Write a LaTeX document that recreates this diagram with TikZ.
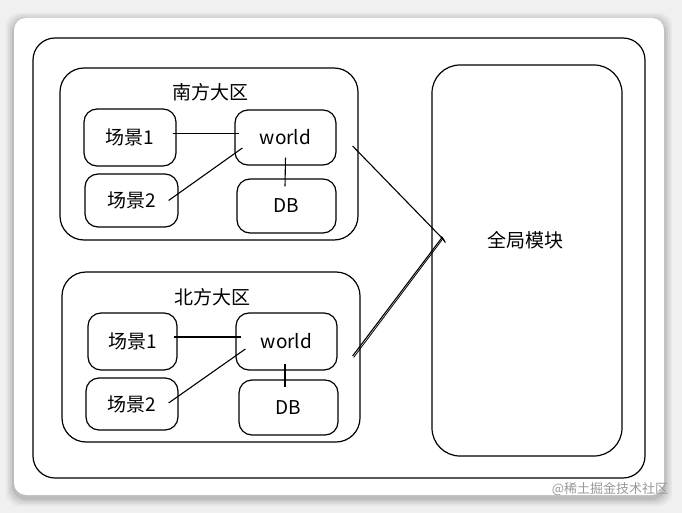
\documentclass[tikz,border=0pt]{standalone}
\usepackage{fontspec}
\setmainfont{Noto Sans CJK SC}
\begin{document}
\begin{tikzpicture}[x=1pt,y=-1pt,
  frame/.style={draw, line width=1.2pt, inner sep=0pt},
  bigbox/.style={frame, rounded corners=22pt},
  regbox/.style={frame, rounded corners=24pt},
  smallbox/.style={frame, rounded corners=13pt, font=\fontsize{19}{19}\selectfont},
  lbl/.style={font=\fontsize{19}{19}\selectfont, inner sep=0pt},
  conn/.style={line width=1.1pt}]
\useasboundingbox (0,0) rectangle (682,513);
\fill[black!6] (0,0) rectangle (682,513);
\foreach \d/\o in {8/0.04,6/0.05,4/0.06,2/0.08}{
  \fill[black, opacity=\o, rounded corners=14pt] (14-\d,18-\d+3) rectangle (664+\d,495+\d+3);
}
\fill[white, rounded corners=12pt] (14,18) rectangle (664,495);

% containers
\node[bigbox, minimum width=612pt, minimum height=440pt] (outer) at (339,258) {};
\node[regbox, minimum width=298pt, minimum height=172pt] (sreg) at (209,154) {};
\node[regbox, minimum width=298pt, minimum height=170pt] (nreg) at (211,357) {};
\node[bigbox, rounded corners=28pt, minimum width=190pt, minimum height=391pt] (glob) at (527,260.5) {};
\node[lbl] (globl) at (525,240) {全局模块};
\node[lbl] (slbl) at (210,92) {南方大区};
\node[lbl] (nlbl) at (212,297) {北方大区};

% south
\node[smallbox, minimum width=92pt, minimum height=57pt] (s1S) at (130,137.5) {场景1};
\node[smallbox, minimum width=93pt, minimum height=53pt] (s2S) at (131.5,200.5) {场景2};
\node[smallbox, minimum width=101pt, minimum height=55pt] (wS) at (285.5,137.5) {world};
\node[smallbox, minimum width=99pt, minimum height=54pt] (dbS) at (286.5,206) {DB};

% north
\node[smallbox, minimum width=89pt, minimum height=57pt] (s1N) at (132.5,341.5) {场景1};
\node[smallbox, minimum width=92pt, minimum height=52pt] (s2N) at (132,404) {场景2};
\node[smallbox, minimum width=101pt, minimum height=57pt] (wN) at (286.5,341.5) {world};
\node[smallbox, minimum width=99pt, minimum height=55pt] (dbN) at (288.5,407.5) {DB};

% connectors south
\draw[conn] ([shift={(-4,-4)}]s1S.east) -- ([shift={(5,-4)}]wS.west);
\draw[conn] ([shift={(-10,0)}]s2S.east) -- ([shift={(8,10.5)}]wS.west);
\draw[conn] ([shift={(0,-8)}]wS.south) -- ([shift={(-1.5,8)}]dbS.north);
% connectors north
\draw[conn] ([shift={(-4,-4.5)}]s1N.east) -- ([shift={(6,-4.5)}]wN.west);
\draw[conn] ([shift={(-10,-1)}]s2N.east) -- ([shift={(10,7.5)}]wN.west);
\draw[conn] ([shift={(-1.5,-7)}]wN.south) -- ([shift={(-3.5,8)}]dbN.north);

% to global
\draw[conn] ([shift={(-6,-8)}]sreg.east) -- ([shift={(13,-20)}]glob.west);
\draw[conn] ([shift={(10,-24)}]glob.west) -- ([shift={(14,-18)}]glob.west);
\draw[conn] ([shift={(-8,-1)}]nreg.east) -- ([shift={(11,-23.5)}]glob.west);
\draw[line width=0.8pt] ([shift={(-7,0.5)}]nreg.east) -- ([shift={(12,-22.5)}]glob.west);

% watermark
\node[font=\fontsize{13}{13}\selectfont, text=black!40, inner sep=0pt] (wm) at (610,489) {@稀土掘金技术社区};
\end{tikzpicture}
\end{document}
